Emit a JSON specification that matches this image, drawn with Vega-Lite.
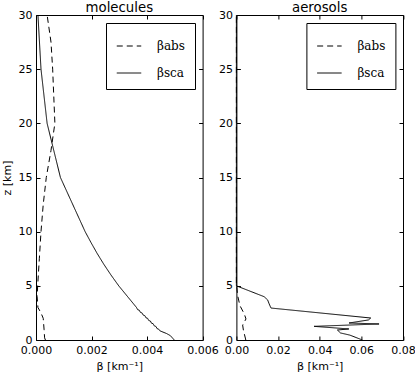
{
  "$schema": "https://vega.github.io/schema/vega-lite/v6.json",
  "background": "white",
  "padding": {"left": 0, "top": 0, "right": 0, "bottom": 0},
  "bounds": "flush",
  "spacing": 33.4,
  "config": {
    "font": "DejaVu Sans",
    "view": {"stroke": "black", "strokeWidth": 1},
    "axis": {
      "labelFont": "DejaVu Sans", "labelFontSize": 11, "labelColor": "black",
      "titleFont": "DejaVu Sans", "titleFontSize": 11, "titleFontWeight": "normal", "titleColor": "black",
      "domain": false, "grid": false, "tickColor": "black", "tickSize": -4, "tickWidth": 1,
      "labelPadding": 8, "labelFlush": false, "labelOverlap": false
    },
    "title": {"font": "DejaVu Sans", "fontSize": 13.3, "fontWeight": "normal", "color": "black", "offset": -5.5},
    "legend": {
      "orient": "top-right", "offset": 8, "padding": 10, "strokeColor": "black", "fillColor": "white",
      "cornerRadius": 0, "symbolType": "stroke", "symbolSize": 600, "symbolStrokeWidth": 1,
      "symbolStrokeColor": "black", "labelFont": "DejaVu Serif", "labelFontSize": 12, "labelColor": "black",
      "labelOffset": 15, "rowPadding": 8
    }
  },
  "datasets": {
    "mol": [
      {"series": "abs", "z": 30, "beta": 0.00040},
      {"series": "abs", "z": 27.5, "beta": 0.00054},
      {"series": "abs", "z": 25, "beta": 0.00060},
      {"series": "abs", "z": 22.5, "beta": 0.00064},
      {"series": "abs", "z": 20, "beta": 0.00068},
      {"series": "abs", "z": 17.5, "beta": 0.00054},
      {"series": "abs", "z": 15, "beta": 0.00037},
      {"series": "abs", "z": 12.5, "beta": 0.00026},
      {"series": "abs", "z": 10, "beta": 0.00018},
      {"series": "abs", "z": 7.5, "beta": 0.00012},
      {"series": "abs", "z": 5, "beta": 0.00006},
      {"series": "abs", "z": 4, "beta": 0.00004},
      {"series": "abs", "z": 3, "beta": 0.00007},
      {"series": "abs", "z": 2.5, "beta": 0.00018},
      {"series": "abs", "z": 2, "beta": 0.00026},
      {"series": "abs", "z": 1, "beta": 0.00029},
      {"series": "abs", "z": 0.2, "beta": 0.00031},
      {"series": "abs", "z": 0, "beta": 0.00034},
      {"series": "sca", "z": 30, "beta": 0.00007},
      {"series": "sca", "z": 25, "beta": 0.00018},
      {"series": "sca", "z": 20, "beta": 0.00040},
      {"series": "sca", "z": 15, "beta": 0.00088},
      {"series": "sca", "z": 10, "beta": 0.00177},
      {"series": "sca", "z": 9, "beta": 0.00198},
      {"series": "sca", "z": 8, "beta": 0.00220},
      {"series": "sca", "z": 7, "beta": 0.00244},
      {"series": "sca", "z": 6, "beta": 0.00270},
      {"series": "sca", "z": 5, "beta": 0.00298},
      {"series": "sca", "z": 4, "beta": 0.00330},
      {"series": "sca", "z": 3, "beta": 0.00362},
      {"series": "sca", "z": 2.8, "beta": 0.00366},
      {"series": "sca", "z": 2.75, "beta": 0.00372},
      {"series": "sca", "z": 2.55, "beta": 0.00376},
      {"series": "sca", "z": 2.5, "beta": 0.00382},
      {"series": "sca", "z": 2.3, "beta": 0.00386},
      {"series": "sca", "z": 2.25, "beta": 0.00392},
      {"series": "sca", "z": 2.05, "beta": 0.00396},
      {"series": "sca", "z": 2.0, "beta": 0.00402},
      {"series": "sca", "z": 1.8, "beta": 0.00406},
      {"series": "sca", "z": 1.75, "beta": 0.00412},
      {"series": "sca", "z": 1.55, "beta": 0.00416},
      {"series": "sca", "z": 1.5, "beta": 0.00422},
      {"series": "sca", "z": 1.3, "beta": 0.00426},
      {"series": "sca", "z": 1.25, "beta": 0.00432},
      {"series": "sca", "z": 1.05, "beta": 0.00436},
      {"series": "sca", "z": 1.0, "beta": 0.00442},
      {"series": "sca", "z": 0.85, "beta": 0.00446},
      {"series": "sca", "z": 0.6, "beta": 0.00470},
      {"series": "sca", "z": 0.4, "beta": 0.00484},
      {"series": "sca", "z": 0, "beta": 0.00498}
    ],
    "aer": [
      {"series": "abs", "z": 30, "beta": 0},
      {"series": "abs", "z": 5, "beta": 0},
      {"series": "abs", "z": 4.86, "beta": 0.0002},
      {"series": "abs", "z": 4.1, "beta": 0.0006},
      {"series": "abs", "z": 3.17, "beta": 0.0017},
      {"series": "abs", "z": 2.4, "beta": 0.0038},
      {"series": "abs", "z": 1.94, "beta": 0.0046},
      {"series": "abs", "z": 1.38, "beta": 0.0030},
      {"series": "abs", "z": 0.86, "beta": 0.0034},
      {"series": "abs", "z": 0.18, "beta": 0.0043},
      {"series": "abs", "z": 0, "beta": 0.0045},
      {"series": "sca", "z": 30, "beta": 0},
      {"series": "sca", "z": 5, "beta": 0},
      {"series": "sca", "z": 4, "beta": 0.0133},
      {"series": "sca", "z": 3.7, "beta": 0.0150},
      {"series": "sca", "z": 3.35, "beta": 0.0157},
      {"series": "sca", "z": 2.95, "beta": 0.0166},
      {"series": "sca", "z": 2.03, "beta": 0.0645},
      {"series": "sca", "z": 1.85, "beta": 0.0634},
      {"series": "sca", "z": 1.57, "beta": 0.0541},
      {"series": "sca", "z": 1.48, "beta": 0.0685},
      {"series": "sca", "z": 1.26, "beta": 0.0373},
      {"series": "sca", "z": 1.02, "beta": 0.0540},
      {"series": "sca", "z": 0.92, "beta": 0.0485},
      {"series": "sca", "z": 0.65, "beta": 0.0500},
      {"series": "sca", "z": 0.45, "beta": 0.0545},
      {"series": "sca", "z": 0, "beta": 0.0605}
    ]
  },
  "resolve": {"scale": {"strokeDash": "independent"}, "legend": {"strokeDash": "independent"}},
  "hconcat": [
    {
      "title": "molecules",
      "width": 166.6,
      "height": 325,
      "data": {"name": "mol"},
      "resolve": {"scale": {"x": "independent", "y": "independent"}},
      "layer": [
        {
          "transform": [{"filter": "datum.series === 'abs'"}],
          "mark": {"type": "line", "color": "black", "strokeWidth": 1},
          "encoding": {
            "x": {"field": "beta", "type": "quantitative", "scale": {"domain": [0, 0.006], "nice": false, "zero": false},
                  "axis": {"orient": "bottom", "values": [0, 0.002, 0.004, 0.006], "format": ".3f", "title": "β [km⁻¹]", "titlePadding": 5}},
            "y": {"field": "z", "type": "quantitative", "scale": {"domain": [0, 30], "nice": false},
                  "axis": {"orient": "left", "values": [0, 5, 10, 15, 20, 25, 30], "title": "z [km]", "titlePadding": 6}},
            "order": {"field": "z"},
            "strokeDash": {"field": "series", "type": "nominal",
                           "scale": {"domain": ["abs", "sca"], "range": [[6, 4], [1, 0]]},
                           "legend": {"title": null, "labelExpr": "'β' + datum.label"}}
          }
        },
        {
          "transform": [{"filter": "datum.series === 'sca'"}],
          "mark": {"type": "line", "color": "black", "strokeWidth": 1},
          "encoding": {
            "x": {"field": "beta", "type": "quantitative", "scale": {"domain": [0, 0.006], "nice": false, "zero": false},
                  "axis": {"orient": "top", "values": [0, 0.002, 0.004, 0.006], "labels": false, "title": null}},
            "y": {"field": "z", "type": "quantitative", "scale": {"domain": [0, 30], "nice": false},
                  "axis": {"orient": "right", "values": [0, 5, 10, 15, 20, 25, 30], "labels": false, "title": null}},
            "order": {"field": "z"},
            "strokeDash": {"field": "series", "type": "nominal",
                           "scale": {"domain": ["abs", "sca"], "range": [[6, 4], [1, 0]]},
                           "legend": {"title": null, "labelExpr": "'β' + datum.label"}}
          }
        }
      ]
    },
    {
      "title": "aerosols",
      "width": 166.6,
      "height": 325,
      "data": {"name": "aer"},
      "resolve": {"scale": {"x": "independent", "y": "independent"}},
      "layer": [
        {
          "transform": [{"filter": "datum.series === 'abs'"}],
          "mark": {"type": "line", "color": "black", "strokeWidth": 1},
          "encoding": {
            "x": {"field": "beta", "type": "quantitative", "scale": {"domain": [0, 0.08], "nice": false, "zero": false},
                  "axis": {"orient": "bottom", "values": [0, 0.02, 0.04, 0.06, 0.08], "format": ".2f", "title": "β [km⁻¹]", "titlePadding": 5}},
            "y": {"field": "z", "type": "quantitative", "scale": {"domain": [0, 30], "nice": false},
                  "axis": {"orient": "left", "values": [0, 5, 10, 15, 20, 25, 30], "title": null}},
            "order": {"field": "z"},
            "strokeDash": {"field": "series", "type": "nominal",
                           "scale": {"domain": ["abs", "sca"], "range": [[6, 4], [1, 0]]},
                           "legend": {"title": null, "labelExpr": "'β' + datum.label"}}
          }
        },
        {
          "transform": [{"filter": "datum.series === 'sca'"}],
          "mark": {"type": "line", "color": "black", "strokeWidth": 1},
          "encoding": {
            "x": {"field": "beta", "type": "quantitative", "scale": {"domain": [0, 0.08], "nice": false, "zero": false},
                  "axis": {"orient": "top", "values": [0, 0.02, 0.04, 0.06, 0.08], "labels": false, "title": null}},
            "y": {"field": "z", "type": "quantitative", "scale": {"domain": [0, 30], "nice": false},
                  "axis": {"orient": "right", "values": [0, 5, 10, 15, 20, 25, 30], "labels": false, "title": null}},
            "order": {"field": "z"},
            "strokeDash": {"field": "series", "type": "nominal",
                           "scale": {"domain": ["abs", "sca"], "range": [[6, 4], [1, 0]]},
                           "legend": {"title": null, "labelExpr": "'β' + datum.label"}}
          }
        }
      ]
    }
  ]
}
